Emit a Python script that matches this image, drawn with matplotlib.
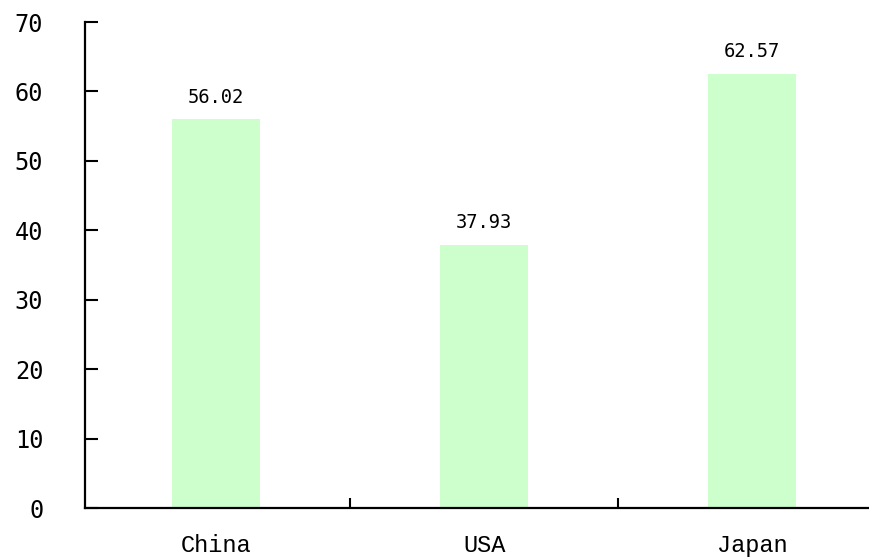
import matplotlib.pyplot as plt

# datos
paises = ['China', 'USA', 'Japan']
valores = [56.02, 37.93, 62.57]
yticks = [0, 10, 20, 30, 40, 50, 60, 70]

fig = plt.figure(figsize=(8.7, 5.58), dpi=100)
ax = fig.add_axes([85 / 870, 1 - 508 / 558, 1 - 85 / 870, (508 - 22) / 558])

pos = list(range(len(paises)))
ax.bar(pos, valores, width=0.33, color='#CCFFCC', zorder=1)

for x, v in zip(pos, valores):
    ax.annotate(f'{v:.2f}', (x, v), xytext=(0, 9), textcoords='offset points',
                ha='center', va='bottom', fontsize=13.5, family='DejaVu Sans Mono')

ax.set_xlim(-0.49, 2.44)
ax.set_ylim(0, 70)

ax.spines['top'].set_visible(False)
ax.spines['right'].set_visible(False)
ax.spines['left'].set_linewidth(1.6)
ax.spines['bottom'].set_linewidth(1.6)

ax.set_yticks(yticks)
ax.set_yticklabels([str(t) for t in yticks], family='DejaVu Sans Mono', fontsize=17)
ax.tick_params(axis='y', direction='in', length=9, width=1.5, pad=30)

# etiquetas de categorías entre ticks
ax.set_xticks([0.5, 1.5])
ax.set_xticklabels([])
ax.set_xticks(pos, minor=True)
ax.set_xticklabels(paises, minor=True, family='Liberation Mono', fontsize=17)
ax.tick_params(axis='x', which='major', direction='in', length=7, width=1.5)
ax.tick_params(axis='x', which='minor', length=0, pad=19)

fig.savefig('out.png', dpi=100)
